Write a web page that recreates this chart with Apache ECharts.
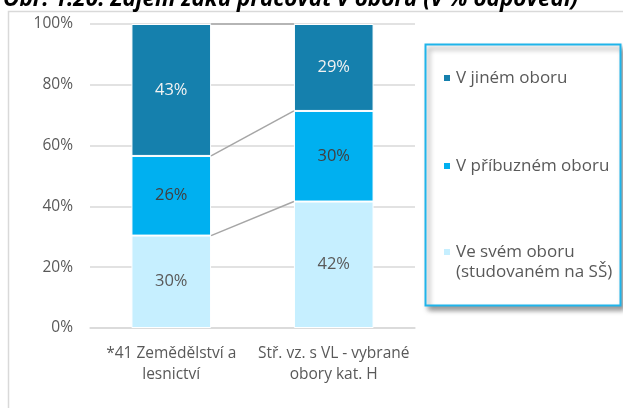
<!DOCTYPE html>
<html><head><meta charset="utf-8">
<script src="https://cdn.jsdelivr.net/npm/echarts@6/dist/echarts.min.js"></script>
<style>html,body{margin:0;padding:0;background:#fff}#c{width:623px;height:408px}</style>
</head><body><div id="c"></div>
<script>
const categories = ['*41 Zemědělství a\nlesnictví', 'Stř. vz. s VL - vybrané\nobory kat. H'];
const seriesNames = ['Ve svém oboru\n(studovaném na SŠ)', 'V příbuzném oboru', 'V jiném oboru'];
const valOwn = [30.4, 41.6];
const valRelated = [26.2, 29.8];
const valOther = [43.4, 28.6];
const yTicks = [0, 20, 40, 60, 80, 100];
const colors = ['#c6efff', '#00b0f0', '#1580ad'];
const labelColors = ['#595959', '#404040', '#f2f2f2'];

const F = 'Open Sans';
const values = [valOwn, valRelated, valOther];
const barSeries = values.map((v, i) => ({
  name: seriesNames[i], type: 'bar', stack: 'a', barWidth: '49%', data: v,
  itemStyle: { color: colors[i], borderColor: '#fff', borderWidth: 1 },
  label: { show: true, position: 'inside', color: labelColors[i], fontFamily: F, fontSize: 16.5,
           formatter: p => Math.round(p.value) + '%' },
  z: 3
}));
const cum = [];
let acc = [0, 0];
values.forEach(v => { acc = [acc[0] + v[0], acc[1] + v[1]]; cum.push([0, acc[0], acc[1]]); });
const lineSeries = {
  type: 'custom', silent: true, z: 2, data: cum,
  renderItem: (params, api) => {
    const half = api.size([1, 0])[0] * 0.49 / 2;
    const p0 = api.coord([0, api.value(1)]);
    const p1 = api.coord([1, api.value(2)]);
    return { type: 'line', shape: { x1: p0[0] + half, y1: p0[1], x2: p1[0] - half, y2: p1[1] },
             style: { stroke: '#a6a6a6', lineWidth: 1.5 } };
  }
};
const legendTextStyle = { fontFamily: F, fontSize: 17, color: '#595959', lineHeight: 20 };
const mkLegend = (name, top, fmt) => ({
  orient: 'vertical', left: 437, top: top, itemWidth: 8, itemHeight: 8, data: [name],
  icon: 'rect', textStyle: legendTextStyle, z: 5, formatter: fmt || (n => n)
});
const chart = echarts.init(document.getElementById('c'));
chart.setOption({
  animation: false,
  title: { text: 'Obr. 1.20: Zájem žáků pracovat v oboru (v % odpovědí)', left: -2, top: -17,
           textStyle: { fontFamily: F, fontSize: 22.5, fontWeight: 'bold', fontStyle: 'italic', color: '#000' } },
  graphic: [
    { type: 'rect', shape: { x: 8.5, y: 11.5, width: 700, height: 500 }, style: { fill: 'none', stroke: '#d9d9d9', lineWidth: 1.5 }, z: -10 },
    { type: 'rect', shape: { x: 425.5, y: 44.5, width: 195, height: 261 },
      style: { fill: '#fff', stroke: '#1fb4ea', lineWidth: 2, shadowBlur: 5, shadowOffsetX: 3, shadowOffsetY: 4, shadowColor: 'rgba(0,0,0,0.4)' }, z: 0 }
  ],
  legend: [
    mkLegend(seriesNames[2], 63),
    mkLegend(seriesNames[1], 151),
    mkLegend(seriesNames[0], 217, n => '\n' + n)
  ],
  grid: { left: 90, right: 208, top: 24, bottom: 80 },
  xAxis: { type: 'category', data: categories,
    axisLine: { lineStyle: { color: '#d9d9d9', width: 1.5 } }, axisTick: { show: false },
    axisLabel: { interval: 0, fontFamily: F, fontSize: 15.5, color: '#595959', margin: 15, lineHeight: 21 } },
  yAxis: { type: 'value', min: 0, max: 100, interval: 20,
    axisLabel: { fontFamily: F, fontSize: 15.5, color: '#595959', margin: 17, formatter: v => v + '%' },
    splitLine: { lineStyle: { color: '#d9d9d9', width: 1.5 } } },
  series: [...barSeries, lineSeries]
});
</script></body></html>
